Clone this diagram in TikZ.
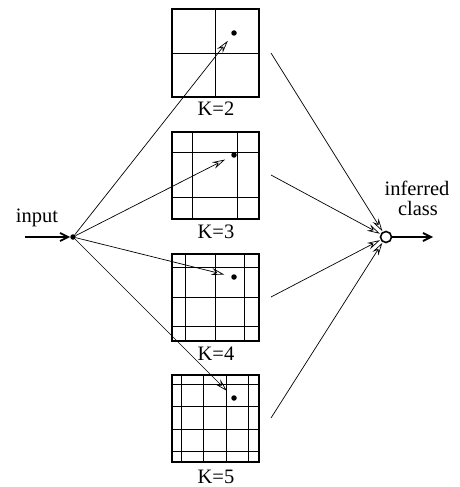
\documentclass[tikz,border=0pt]{standalone}
\usepackage{fontspec}
\setmainfont{Liberation Serif}
\usetikzlibrary{arrows.meta,calc}
\begin{document}
\begin{tikzpicture}[x=1pt,y=-1pt,
  cell/.style={draw,line width=2pt,minimum size=87pt,inner sep=0pt},
  gridline/.style={line width=0.9pt},
  spot/.style={circle,fill,inner sep=0pt,minimum size=5.5pt},
  lab/.style={font=\fontsize{20.5}{24}\selectfont,anchor=base,inner sep=0pt},
  feed/.style={line width=0.7pt,-{Stealth[open,length=13pt,width=7pt,inset=4.5pt]}},
  thickarrow/.style={line width=1.8pt,-{Straight Barb[length=8pt,width=8pt]}}]
\useasboundingbox (0,0) rectangle (460,487);

% the four quantisation grids with their labels and sample points
\foreach \k/\yc/\yl in {2/53/115,3/175/238,4/297/360,5/418/483} {
  \node[cell] (b\k) at (215,\yc) {};
  \node[lab] (l\k) at (216,\yl) {K=\k};
  \node[spot] (d\k) at (234,\yc-20) {};
  \coordinate (r\k) at (271,\yc);
}
\foreach \k in {2,...,5} {
  \pgfmathtruncatemacro\n{\k-1}
  \foreach \i in {1,...,\n} {
    \pgfmathsetmacro\f{(2*\i-1)/(2*\n)}
    \draw[gridline] ($(b\k.south west)!\f!(b\k.south east)$) -- ($(b\k.north west)!\f!(b\k.north east)$);
    \draw[gridline] ($(b\k.south west)!\f!(b\k.north west)$) -- ($(b\k.south east)!\f!(b\k.north east)$);
  }
}

% input
\node[spot] (in) at (73,237) {};
\coordinate (src) at (25,237);
\draw[thickarrow] (src) -- (in);
\node[lab] (inlab) at (37,222) {input};

% output
\node[circle,draw,line width=1.6pt,minimum size=11pt,inner sep=0pt,fill=white] (out) at (386,237) {};
\coordinate (dst) at (433,237);
\draw[thickarrow] (out) -- (dst);
\node[lab] (outlab1) at (417,195) {inferred};
\node[lab] (outlab2) at (418,215) {class};

% connectors
\foreach \k in {2,...,5} {
  \draw[feed,shorten >=7pt] (in) -- (d\k);
  \draw[feed,shorten >=0.5pt] (r\k) -- (out);
}
\end{tikzpicture}
\end{document}
